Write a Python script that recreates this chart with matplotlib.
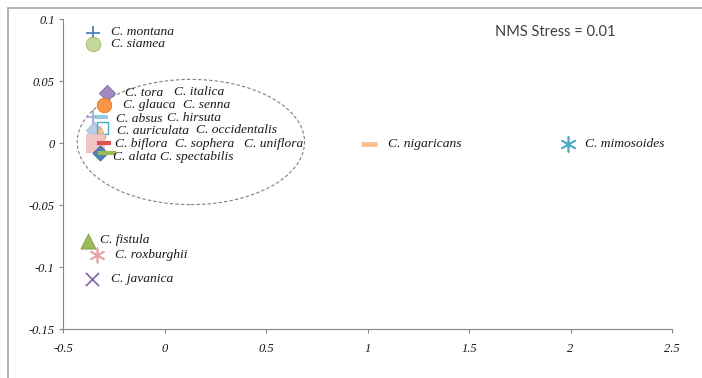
import matplotlib.pyplot as plt
from matplotlib.patches import Ellipse, Rectangle

# NMS ordination scores
species = ["C. montana", "C. siamea", "C. tora", "C. italica", "C. glauca", "C. senna",
           "C. absus", "C. hirsuta", "C. auriculata", "C. occidentalis", "C. uniflora",
           "C. biflora", "C. sophera", "C. alata", "C. spectabilis", "C. nigaricans",
           "C. mimosoides", "C. fistula", "C. roxburghii", "C. javanica"]
axis1 = [-0.352, -0.352, -0.283, -0.340, -0.298, -0.335,
         -0.350, -0.312, -0.347, -0.318, -0.305,
         -0.342, -0.300, -0.318, -0.285, 1.007,
         1.987, -0.377, -0.333, -0.357]
axis2 = [0.089, 0.080, 0.040, 0.002, 0.031, -0.002,
         0.021, 0.021, 0.0105, 0.009, 0.012,
         0.0, 0.0, -0.008, -0.008, -0.001,
         -0.001, -0.079, -0.090, -0.110]
# where each label sits (data coords, left edge / vertical centre)
label_x = [-0.265, -0.265, -0.195, 0.047, -0.205, 0.091,
           -0.240, 0.012, -0.235, 0.155, 0.391,
           -0.245, 0.051, -0.254, -0.022, 1.101,
           2.071, -0.318, -0.244, -0.264]
label_y = [0.0895, 0.080, 0.040, 0.041, 0.0305, 0.0305,
           0.0190, 0.0203, 0.0097, 0.0105, -0.0012,
           -0.0012, -0.0012, -0.0113, -0.0113, -0.0012,
           -0.0012, -0.078, -0.090, -0.110]

styles = [
    dict(marker="+", s=110, color="#4F81BD", linewidths=1.3),
    dict(marker="o", s=110, color="#C3D69B", edgecolors="#9BBB59", linewidths=0.6),
    dict(marker="D", s=70, color="#9F8BC0", edgecolors="#8064A2", linewidths=0.5),
    dict(marker="o", s=40, color="#C0504D", linewidths=0.5),
    dict(marker="o", s=110, color="#F79646", edgecolors="#E46C0A", linewidths=0.5),
    dict(marker="^", s=40, color="#8064A2", linewidths=0.5),
    dict(marker="+", s=110, color="#A6A6D8", linewidths=1.3),
    dict(marker="_", s=110, color="#93CDDD", linewidths=3),
    dict(marker="D", s=70, color="#B9CDE5", edgecolors="#95B3D7", linewidths=0.5),
    dict(marker="^", s=70, color="#FAC090", edgecolors="#F79646", linewidths=0.5),
    dict(marker="s", s=70, facecolors="none", edgecolors="#4BACC6", linewidths=1.0),
    dict(marker="s", s=150, color="#F2C4C4", edgecolors="#E6B9B8", linewidths=0.5),
    dict(marker="_", s=110, color="#D9534F", linewidths=3),
    dict(marker="D", s=60, color="#4F81BD", edgecolors="#376092", linewidths=0.5),
    dict(marker="_", s=150, color="#9BBB59", linewidths=3),
    dict(marker="_", s=130, color="#FAC090", linewidths=3.5),
    dict(marker=(6, 2, 0), s=120, color="#4BACC6", linewidths=1.2),
    dict(marker="^", s=120, color="#9BBB59", edgecolors="#77933C", linewidths=0.5),
    dict(marker=(6, 2, 0), s=110, color="#E6A2A0", linewidths=1.2),
    dict(marker="x", s=90, color="#8064A2", linewidths=1.2),
]
hidden = ["C. italica", "C. senna"]  # markers buried under the cluster

fig = plt.figure(figsize=(7.02, 3.78), dpi=100)
fig.patches.append(Rectangle((8 / 702, -0.1), 1.2, 1.1 - 8 / 378, transform=fig.transFigure,
                             fill=False, edgecolor="#A6A6A6", linewidth=1.2))
ax = fig.add_axes([63 / 702, 1 - 329 / 378, (672 - 63) / 702, (329 - 19) / 378])

ax.add_patch(Ellipse((0.13, 0.0008), 1.12, 0.101, fill=False, edgecolor="#7F7F7F",
                     linestyle=(0, (3, 2)), linewidth=0.8))

for i in range(len(species)):
    z = 2 if species[i] in hidden else 3
    ax.scatter(axis1[i], axis2[i], zorder=z, **styles[i])
    ax.text(label_x[i], label_y[i], species[i], family="Liberation Serif", style="italic",
            fontsize=9.7, va="center", ha="left", color="#1a1a1a", zorder=4)

ax.text(1.924, 0.0893, "NMS Stress = 0.01", family="Lato", fontsize=10.5, color="#404040",
        ha="center", va="center")

ax.set_xlim(-0.5, 2.5)
ax.set_ylim(-0.15, 0.1)
ax.set_xticks([-0.5, 0, 0.5, 1, 1.5, 2, 2.5])
ax.set_xticklabels(["-0.5", "0", "0.5", "1", "1.5", "2", "2.5"])
ax.set_yticks([-0.15, -0.1, -0.05, 0, 0.05, 0.1])
ax.set_yticklabels(["-0.15", "-0.1", "-0.05", "0", "0.05", "0.1"])
for lab in ax.get_xticklabels() + ax.get_yticklabels():
    lab.set_family("Liberation Serif")
    lab.set_style("italic")
    lab.set_fontsize(9)
ax.tick_params(direction="out", length=3, color="#868686", labelcolor="#1a1a1a")
ax.tick_params(axis="x", pad=7)
ax.tick_params(axis="y", pad=3)
for side in ["top", "right"]:
    ax.spines[side].set_visible(False)
for side in ["left", "bottom"]:
    ax.spines[side].set_color("#868686")
ax.patch.set_alpha(0)

fig.savefig("out.png", dpi=100)
